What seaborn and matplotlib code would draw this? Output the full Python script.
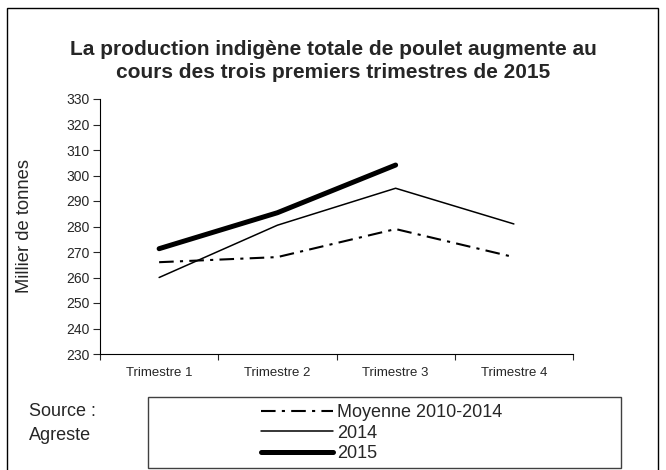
import matplotlib
matplotlib.use("Agg")
import matplotlib.pyplot as plt
import seaborn as sns
from matplotlib.lines import Line2D
from matplotlib.patches import Rectangle
from matplotlib.ticker import FixedLocator

quarters = ["Trimestre 1", "Trimestre 2", "Trimestre 3", "Trimestre 4"]
avg_2010_2014 = [266, 268, 279, 268]
y2014 = [260, 280.5, 295, 281]
y2015 = [271.3, 285.4, 304.1]
labels = ["Moyenne 2010-2014", "2014", "2015"]
yticks = list(range(230, 331, 10))

sns.set_style("ticks")
plt.rcParams["font.family"] = ["Liberation Sans", "DejaVu Sans"]

fig = plt.figure(figsize=(6.66, 4.70), dpi=100)
ax = fig.add_axes([100 / 666, 1 - 354 / 470, 473 / 666, 255 / 470])

dashdot = (0, (7, 3, 1.5, 3))
sns.lineplot(x=quarters, y=avg_2010_2014, ax=ax, color="black", lw=1.5,
             linestyle=dashdot)
sns.lineplot(x=quarters, y=y2014, ax=ax, color="black", lw=1.1)
sns.lineplot(x=quarters[:3], y=y2015, ax=ax, color="black", lw=3.6,
             solid_capstyle="round")

ax.set_xlim(-0.5, 3.5)
ax.set_ylim(230, 330)
ax.set_yticks(yticks)
ax.set_ylabel("")
ax.xaxis.set_minor_locator(FixedLocator([-0.5, 0.5, 1.5, 2.5, 3.5]))
ax.tick_params(axis="x", which="major", length=0, pad=9, labelsize=9.5)
ax.tick_params(axis="x", which="minor", length=4, width=0.8, direction="out")
ax.tick_params(axis="y", length=5, width=0.8, pad=2.5, labelsize=10, direction="out")
for s in ["top", "right"]:
    ax.spines[s].set_visible(False)
for s in ["left", "bottom"]:
    ax.spines[s].set_color("black")
    ax.spines[s].set_linewidth(0.8)

fig.text(0.5, 1 - 61 / 470,
         "La production indigène totale de poulet augmente au\ncours des trois premiers trimestres de 2015",
         ha="center", va="center", fontsize=15, fontweight="bold", linespacing=1.32)
fig.text(25 / 666, 1 - 226 / 470, "Millier de tonnes", rotation=90,
         ha="center", va="center", fontsize=13.2)

# outer frame
fig.patches.append(Rectangle((7 / 666, -0.02), 651 / 666, 1 - 8 / 470 + 0.02,
                             transform=fig.transFigure, fill=False,
                             edgecolor="black", lw=1.0))
# legend box
fig.patches.append(Rectangle((148 / 666, 1 - 468 / 470), 473 / 666, 71 / 470,
                             transform=fig.transFigure, fill=False,
                             edgecolor="#404040", lw=1.0))

handles = [
    Line2D([], [], color="black", lw=1.5, linestyle=dashdot),
    Line2D([], [], color="black", lw=1.1),
    Line2D([], [], color="black", lw=3.6, solid_capstyle="round"),
]
fig.legend(handles, labels, loc="upper left",
           bbox_to_anchor=(261 / 666, 1 - 404 / 470), frameon=False,
           fontsize=13, handlelength=4.0, handletextpad=0.2,
           labelspacing=0.2, borderpad=0, borderaxespad=0)

fig.text(29 / 666, 1 - 412 / 470, "Source :", ha="left", va="center", fontsize=13)
fig.text(29 / 666, 1 - 435 / 470, "Agreste", ha="left", va="center", fontsize=13)

fig.savefig("out.png", dpi=100)
